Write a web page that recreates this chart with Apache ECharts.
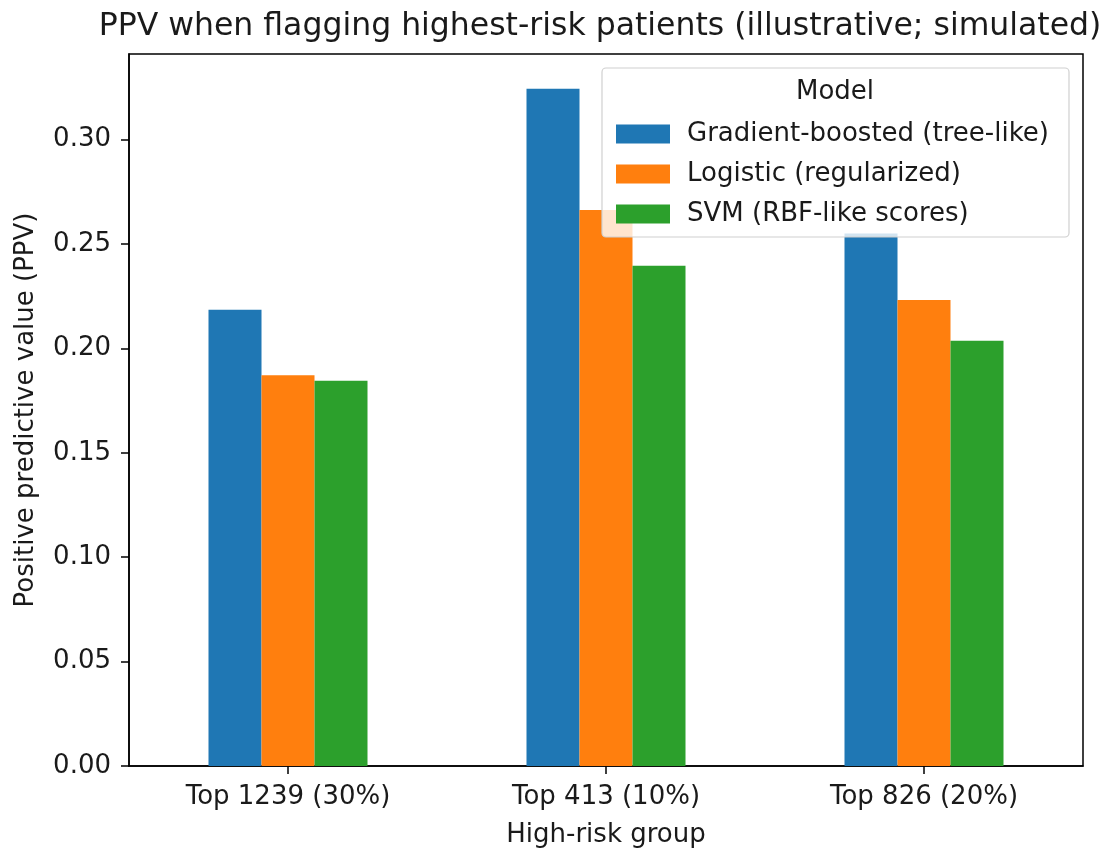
<!DOCTYPE html>
<html>
<head>
<meta charset="utf-8">
<script src="https://cdn.jsdelivr.net/npm/echarts@6/dist/echarts.min.js"></script>
<style>html,body{margin:0;padding:0;background:#fff;}#chart{width:1115px;height:850px;}</style>
</head>
<body>
<div id="chart"></div>
<script>
const categories = ['Top 1239 (30%)', 'Top 413 (10%)', 'Top 826 (20%)'];
const seriesNames = ['Gradient-boosted (tree-like)', 'Logistic (regularized)', 'SVM (RBF-like scores)'];
const gradientBoosted = [0.2185, 0.3243, 0.2550];
const logistic = [0.1872, 0.2663, 0.2232];
const svm = [0.1845, 0.2396, 0.2037];
const colors = ['#1f77b4', '#ff7f0e', '#2ca02c'];
const titleText = 'PPV when flagging highest-risk patients (illustrative; simulated)';
const xName = 'High-risk group';
const yName = 'Positive predictive value (PPV)';
const legendTitle = 'Model';

const font = 'DejaVu Sans';
const txt = '#1a1a1a';
const fs = 26;
const chart = echarts.init(document.getElementById('chart'), null, {renderer: 'canvas'});
const values = [gradientBoosted, logistic, svm];
chart.setOption({
  animation: false,
  backgroundColor: '#fff',
  textStyle: {fontFamily: font},
  title: {
    text: titleText, left: 595, top: 6, textAlign: 'center',
    textStyle: {fontFamily: font, fontSize: 31.5, fontWeight: 'normal', color: txt}
  },
  grid: {left: 129, top: 54, width: 954, height: 712, show: true, borderColor: '#000', borderWidth: 1.5,
    backgroundColor: 'transparent', containLabel: false, outerBoundsMode: 'none'},
  xAxis: {
    type: 'category', data: categories,
    name: xName, nameLocation: 'middle', nameGap: 56,
    nameTextStyle: {fontFamily: font, fontSize: fs, color: txt},
    axisLine: {lineStyle: {color: '#000', width: 1.5}},
    axisTick: {show: true, alignWithLabel: true, length: 8, lineStyle: {color: '#000', width: 1.5}},
    axisLabel: {fontFamily: font, fontSize: fs, color: txt, margin: 18}
  },
  yAxis: {
    type: 'value', min: 0, max: 0.341, interval: 0.05,
    name: yName, nameLocation: 'middle', nameGap: 90,
    nameTextStyle: {fontFamily: font, fontSize: fs, color: txt},
    axisLine: {show: true, lineStyle: {color: '#000', width: 1.5}},
    axisTick: {show: true, length: 8, lineStyle: {color: '#000', width: 1.5}},
    splitLine: {show: false},
    axisLabel: {fontFamily: font, fontSize: fs, color: txt, margin: 18, showMaxLabel: false,
      formatter: v => v.toFixed(2)}
  },
  legend: {
    orient: 'vertical', left: 611, top: 116, z: 10,
    itemWidth: 54, itemHeight: 19, itemGap: 14,
    icon: 'rect',
    textStyle: {fontFamily: font, fontSize: fs, color: txt, padding: [0, 0, 0, 12]},
    data: seriesNames
  },
  graphic: [
    {type: 'rect', z: 5, shape: {x: 602, y: 68, width: 467, height: 169, r: 4},
     style: {fill: 'rgba(255,255,255,0.8)', stroke: '#d0d0d0', lineWidth: 1.2}},
    {type: 'text', z: 11, x: 835, y: 92,
     style: {text: legendTitle, font: '26px "DejaVu Sans"', fill: txt, textAlign: 'center', textVerticalAlign: 'middle'}}
  ],
  series: seriesNames.map((n, i) => ({
    name: n, type: 'bar', data: values[i],
    barGap: '0%', barCategoryGap: '50%',
    itemStyle: {color: colors[i]}
  }))
});
</script>
</body>
</html>
